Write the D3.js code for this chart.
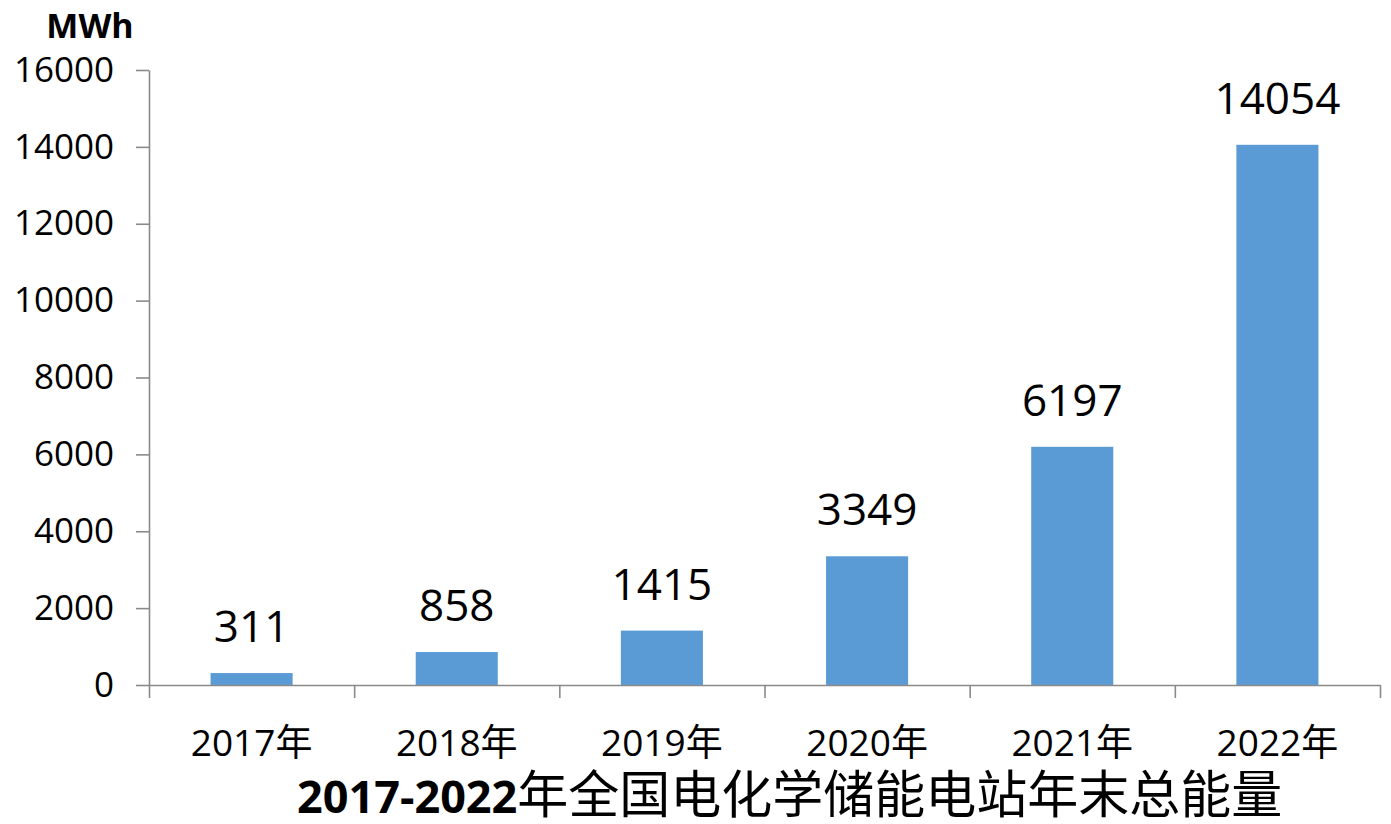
<!DOCTYPE html>
<html>
<head>
<meta charset="utf-8">
<script src="https://cdn.jsdelivr.net/npm/d3@7"></script>
<style>
  html, body { margin: 0; padding: 0; background: #fff; }
  svg { display: block; }
  text { font-family: "Open Sans", "Noto Sans CJK SC", sans-serif; fill: #000; }
</style>
</head>
<body>
<svg id="chart" width="1391" height="824"></svg>
<script>
// Year-end total energy of electrochemical storage stations (MWh)
const years = ["2017年", "2018年", "2019年", "2020年", "2021年", "2022年"];
const energy = [311, 858, 1415, 3349, 6197, 14054];
const yTicks = [0, 2000, 4000, 6000, 8000, 10000, 12000, 14000, 16000];
const unitLabel = "MWh";
const titleNum = "2017-2022";
const titleText = "年全国电化学储能电站年末总能量";

const svg = d3.select("#chart");
const plotLeft = 149, plotRight = 1380, plotTop = 70, plotBottom = 685;
const axisColor = "#8a8a8a";
const barColor = "#5B9BD5";

const x = d3.scaleBand().domain(years).range([plotLeft, plotRight])
  .paddingInner(0.6).paddingOuter(0.3);
const xEdge = d3.scaleLinear().domain([0, years.length]).range([plotLeft, plotRight]);
const y = d3.scaleLinear().domain([0, 16000]).range([plotBottom, plotTop]);

// bars
svg.append("g").selectAll("rect").data(energy).join("rect")
  .attr("x", (d, i) => x(years[i]))
  .attr("width", x.bandwidth())
  .attr("y", d => y(d))
  .attr("height", d => y(0) - y(d))
  .attr("fill", barColor);

// value labels
svg.append("g").selectAll("text").data(energy).join("text")
  .attr("x", (d, i) => x(years[i]) + x.bandwidth() / 2)
  .attr("y", d => y(d) - 31)
  .attr("text-anchor", "middle")
  .style("font-size", "44px")
  .text(d => d);

// y axis
const yAxis = svg.append("g").attr("transform", `translate(${plotLeft},0)`)
  .call(d3.axisLeft(y).tickValues(yTicks).tickFormat(d => d).tickSize(13).tickSizeOuter(0).tickPadding(22));
yAxis.select(".domain").attr("stroke", axisColor).attr("stroke-width", 1.6);
yAxis.selectAll(".tick line").attr("stroke", axisColor).attr("stroke-width", 1.6);
yAxis.selectAll(".tick text").style("font-size", "35px").attr("fill", "#000")
  .style("font-family", "'Open Sans', sans-serif");

// x axis with ticks on category boundaries
const xAxis = svg.append("g").attr("transform", `translate(0,${plotBottom})`)
  .call(d3.axisBottom(xEdge).tickValues(d3.range(years.length + 1)).tickFormat("").tickSize(13).tickSizeOuter(0));
xAxis.select(".domain").attr("stroke", axisColor).attr("stroke-width", 1.6);
xAxis.selectAll(".tick line").attr("stroke", axisColor).attr("stroke-width", 1.6);

// category labels
svg.append("g").selectAll("text").data(years).join("text")
  .attr("x", d => x(d) + x.bandwidth() / 2)
  .attr("y", 756)
  .attr("text-anchor", "middle")
  .style("font-size", "37px")
  .text(d => d);

// unit
svg.append("text")
  .attr("x", 90).attr("y", 38)
  .attr("text-anchor", "middle")
  .style("font-size", "34px").style("font-weight", "bold")
  .text(unitLabel);

// title
const title = svg.append("text")
  .attr("x", 297).attr("y", 813);
title.append("tspan").style("font-size", "45px").style("font-weight", "bold").text(titleNum);
title.append("tspan").style("font-size", "51px")
  .style("font-family", "'Noto Sans CJK SC', sans-serif").text(titleText);
</script>
</body>
</html>
